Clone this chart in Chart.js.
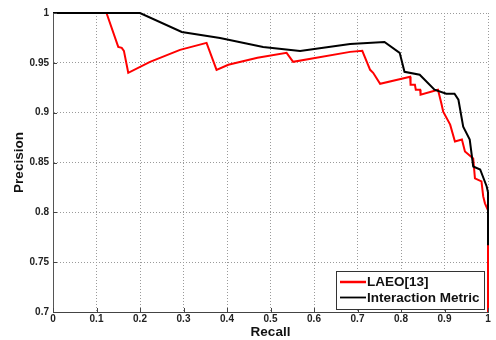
<!DOCTYPE html>
<html>
<head>
<meta charset="utf-8">
<script src="https://cdn.jsdelivr.net/npm/chart.js@4"></script>
<style>
  html,body{margin:0;padding:0;background:#fff;}
  #wrap{width:496px;height:340px;}
</style>
</head>
<body>
<div id="wrap"><canvas id="prChart" width="496" height="340"></canvas></div>
<script>

/* =========================================
   Data
========================================= */

const xTicks = [0,0.1,0.2,0.3,0.4,0.5,0.6,0.7,0.8,0.9,1];
const yTicks = [0.7,0.75,0.8,0.85,0.9,0.95,1];

const laeoRecall = [0.123,0.150,0.158,0.163,0.173,0.223,0.292,0.353,0.376,0.403,0.47,0.537,0.552,0.683,0.711,
    0.729,0.736,0.752,0.821,0.822,0.832,0.834,0.844,0.845,0.885,0.893,0.897,0.913,0.924,0.940,0.947,0.966,0.970,
    0.985,0.989,0.993,1.0,1.0];
const laeoPrecision = [1.0,0.966,0.965,0.962,0.940,0.951,0.963,0.970,0.943,0.948,0.955,0.960,0.951,0.961,0.962,
    0.943,0.940,0.929,0.936,0.928,0.928,0.923,0.923,0.918,0.923,0.909,0.901,0.888,0.871,0.873,0.861,0.854,0.834,
    0.831,0.816,0.809,0.802,0.7];

const imRecall = [0,0.2,0.296,0.384,0.483,0.568,0.683,0.762,0.797,0.808,0.843,0.877,0.904,0.923,0.932,0.943,
    0.958,0.966,0.982,0.997,1.0,1.0];
const imPrecision = [1,1,0.981,0.975,0.966,0.962,0.969,0.971,0.960,0.941,0.938,0.923,0.919,0.919,0.913,0.886,
    0.873,0.846,0.843,0.826,0.82,0.767];

const seriesLabels = ["LAEO[13]","Interaction Metric"];
const seriesColors = ["#ff0000","#000000"];

const FONT = "'Liberation Sans', Arial, sans-serif";

function toPoints(xs,ys){
    return xs.map((x,i)=>({x:x,y:ys[i]}));
}


/* =========================================
   Inward tick marks (MATLAB style)
========================================= */

const innerTicks = {
    id:"innerTicks",
    afterDatasetsDraw(chart){
        const ctx = chart.ctx;
        const area = chart.chartArea;
        const xs = chart.scales.x;
        const ys = chart.scales.y;
        ctx.save();
        ctx.strokeStyle = "#444";
        ctx.lineWidth = 1;
        ctx.beginPath();
        xTicks.forEach(v=>{
            const px = Math.round(xs.getPixelForValue(v))+0.5;
            ctx.moveTo(px,area.bottom);
            ctx.lineTo(px,area.bottom-4);
        });
        yTicks.forEach(v=>{
            const py = Math.round(ys.getPixelForValue(v))+0.5;
            ctx.moveTo(area.left,py);
            ctx.lineTo(area.left+4,py);
        });
        ctx.stroke();
        ctx.restore();
    }
};


/* =========================================
   Boxed legend, bottom right inside plot
========================================= */

const boxLegend = {
    id:"boxLegend",
    afterDraw(chart){
        const ctx = chart.ctx;
        const area = chart.chartArea;
        const w = 148, h = 38;
        const bx = area.right - w - 4;
        const by = area.bottom - h - 3;

        ctx.save();
        ctx.fillStyle = "#fff";
        ctx.fillRect(bx,by,w,h);
        ctx.strokeStyle = "#333";
        ctx.lineWidth = 1;
        ctx.strokeRect(bx+0.5,by+0.5,w,h);

        ctx.font = "bold 13.5px " + FONT;
        ctx.textBaseline = "middle";
        ctx.textAlign = "left";

        chart.data.datasets.forEach((ds,i)=>{
            const ly = by + 11 + i*15.5;
            ctx.strokeStyle = ds.borderColor;
            ctx.lineWidth = i === 0 ? 2.5 : 1.8;
            ctx.beginPath();
            ctx.moveTo(bx+4,ly);
            ctx.lineTo(bx+30,ly);
            ctx.stroke();
            ctx.fillStyle = "#111";
            ctx.fillText(ds.label,bx+31,ly+0.5);
        });
        ctx.restore();
    }
};


/* =========================================
   Chart
========================================= */

const ctx = document.getElementById("prChart").getContext("2d");

new Chart(ctx,{
    type:"scatter",
    data:{
        datasets:[
            {
                label:seriesLabels[0],
                data:toPoints(laeoRecall,laeoPrecision),
                borderColor:seriesColors[0],
                backgroundColor:seriesColors[0],
                borderWidth:2,
                showLine:true,
                pointRadius:0,
                tension:0,
                clip:3,
                order:2
            },
            {
                label:seriesLabels[1],
                data:toPoints(imRecall,imPrecision),
                borderColor:seriesColors[1],
                backgroundColor:seriesColors[1],
                borderWidth:2,
                showLine:true,
                pointRadius:0,
                tension:0,
                clip:3,
                order:1
            }
        ]
    },
    options:{
        responsive:false,
        animation:false,
        devicePixelRatio:1,
        layout:{padding:{top:13,right:8,left:0,bottom:0}},
        plugins:{
            legend:{display:false},
            tooltip:{enabled:false}
        },
        scales:{
            x:{
                type:"linear",
                min:0,
                max:1,
                afterBuildTicks:s=>{ s.ticks = xTicks.map(v=>({value:v})); },
                afterFit:s=>{ s.height = 28; },
                ticks:{
                    padding:1,
                    color:"#222",
                    font:{family:FONT,size:10,weight:"bold"},
                    maxRotation:0,
                    callback:v=>String(v)
                },
                grid:{color:"#9a9a9a",lineWidth:1,drawTicks:false},
                border:{display:true,color:"#444",width:1,dash:[1,2]},
                title:{
                    display:true,
                    text:"Recall",
                    color:"#111",
                    font:{family:FONT,size:13.5,weight:"bold"},
                    padding:{top:0,bottom:0}
                }
            },
            y:{
                type:"linear",
                min:0.7,
                max:1,
                afterBuildTicks:s=>{ s.ticks = yTicks.map(v=>({value:v})); },
                afterFit:s=>{ s.width = 53; },
                ticks:{
                    padding:4,
                    color:"#222",
                    font:{family:FONT,size:10,weight:"bold"},
                    callback:v=>String(v)
                },
                grid:{color:"#9a9a9a",lineWidth:1,drawTicks:false},
                border:{display:true,color:"#555",width:1,dash:[1,2]},
                title:{
                    display:true,
                    text:"Precision",
                    color:"#111",
                    font:{family:FONT,size:13.5,weight:"bold"},
                    padding:{top:11,bottom:0}
                }
            }
        }
    },
    plugins:[innerTicks,boxLegend]
});

</script>
</body>
</html>
